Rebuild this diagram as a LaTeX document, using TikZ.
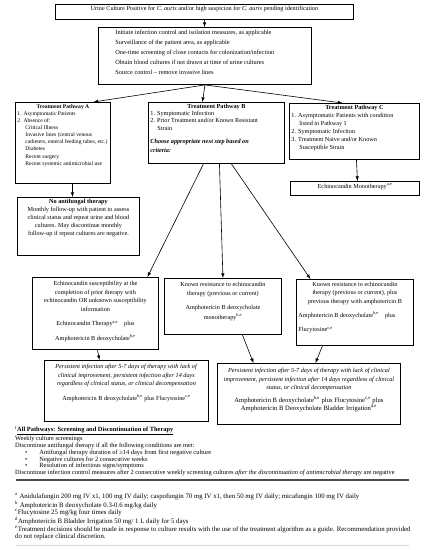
\documentclass[tikz,border=0pt]{standalone}
\usepackage{fontspec}
\setmainfont{Liberation Serif}

% fixed-size box content, text at the top
\newcommand{\cell}[3]{\parbox[c][#2][t]{#1}{#3}}

\tikzset{
  box/.style={draw, line width=0.9pt, inner sep=2pt, anchor=north west,
    font=\fontsize{6.2}{8}\selectfont},
  link/.style={->, line width=0.6pt},
  note/.style={anchor=north west, inner sep=0pt, align=left},
}

\begin{document}
\begin{tikzpicture}[>=latex, x=1pt, y=-1pt]
\useasboundingbox (0,0) rectangle (429,550);

\node[box] (urine) at (55,4) {\cell{294pt}{11pt}{\centering
  Urine Culture Positive for \textit{C. auris} and/or high suspicion for \textit{C. auris} pending identification}};
\node[box] (init) at (98,27) {\cell{209pt}{53pt}{\fontsize{6.3}{10}\selectfont\raggedright\leftskip=15pt
  \vspace*{1pt}Initiate infection control and isolation measures, as applicable\\
  Surveillance of the patient area, as applicable\\
  One-time screening of close contacts for colonization/infection\\
  Obtain blood cultures if not drawn at time of urine cultures\\
  Source control -- remove invasive lines}};

% the three pathways
\node[box, font=\fontsize{5.6}{7.1}\selectfont] (pathA) at (15,102) {\cell{91pt}{77pt}{\centering
  \textbf{Treatment Pathway A}\par\raggedright
  1. Asymptomatic Patients\\
  2. Absence of:\\
  \hspace*{8pt}Critical Illness\\
  \hspace*{8pt}Invasive lines (central venous\\
  \hspace*{8pt}catheters, enteral feeding tubes, etc.)\\
  \hspace*{8pt}Diabetes\\
  \hspace*{8pt}Recent surgery\\
  \hspace*{8pt}Recent systemic antimicrobial use}};
\node[box, font=\fontsize{6.2}{7.1}\selectfont] (pathB) at (148,102) {\cell{132pt}{57pt}{\centering
  \textbf{Treatment Pathway B}\par\raggedright
  1. Symptomatic Infection\\
  2. Prior Treatment and/or Known Resistant\\
  \hspace*{7pt}Strain\\[6pt]
  \textbf{\textit{Choose appropriate next step based on}}\\[2pt]
  \textbf{\textit{criteria:}}}};
\node[box] (pathC) at (289,103) {\cell{126pt}{52pt}{\centering
  \textbf{Treatment Pathway C}\par\raggedright
  1. Asymptomatic Patients with condition\\
  \hspace*{8pt}listed in Pathway 1\\
  2. Symptomatic Infection\\
  3. Treatment Naive and/or Known\\
  \hspace*{8pt}Susceptible Strain}};
\node[box] (echmono) at (290,181) {\cell{125pt}{10pt}{\centering
  Echinocandin Monotherapy\textsuperscript{a,e}}};
\node[box] (noaf) at (17,197) {\cell{118pt}{54pt}{\centering
  \textbf{No antifungal therapy}\\
  Monthly follow-up with patient to assess\\
  clinical status and repeat urine and blood\\
  cultures. May discontinue monthly\\
  follow-up if repeat cultures are negative.}};

% pathway B options
\node[box, font=\fontsize{6.2}{8.5}\selectfont] (suscept) at (32,277) {\cell{122pt}{68pt}{\centering
  \vspace*{2pt}Echinocandin susceptibility at the\\
  completion of prior therapy with\\
  echinocandin OR unknown susceptibility\\
  information\\[6pt]
  Echinocandin Therapy\textsuperscript{a,e}\quad plus\\[6pt]
  Amphotericin B deoxycholate\textsuperscript{b,e}}};
\node[box, font=\fontsize{6.2}{8.5}\selectfont] (resist) at (164,278) {\cell{113pt}{52pt}{\centering
  \vspace*{2pt}Known resistance to echinocandin\\
  therapy (previous or current)\\[6pt]
  Amphotericin B deoxycholate\\[1pt]
  monotherapy\textsuperscript{b,e}}};
\node[box, font=\fontsize{6.2}{8.2}\selectfont] (resamb) at (296,279) {\cell{113pt}{62pt}{\centering
  \vspace*{1pt}Known resistance to echinocandin\\
  therapy (previous or current), plus\\
  previous therapy with amphotericin B\\[6pt]
  \raggedright Amphotericin B deoxycholate\textsuperscript{b,e}\quad plus\\[6pt]
  Flucytosine\textsuperscript{c,e}}};

% persistent infection
\node[box, font=\fontsize{6.2}{8.5}\selectfont] (persistA) at (44,360) {\cell{160pt}{57pt}{\centering
  \vspace*{2pt}\textit{Persistent infection after 5-7 days of therapy with lack of}\\
  \textit{clinical improvement, persistent infection after 14 days}\\
  \textit{regardless of clinical status, or clinical decompensation}\\[6pt]
  Amphotericin B deoxycholate\textsuperscript{b,e} plus Flucytosine\textsuperscript{c,e}}};
\node[box, font=\fontsize{6.2}{8.2}\selectfont] (persistB) at (217,363) {\cell{179pt}{57pt}{\centering
  \vspace*{3pt}\textit{Persistent infection after 5-7 days of therapy with lack of clinical}\\
  \textit{improvement, persistent infection after 14 days regardless of clinical}\\
  \textit{status, or clinical decompensation}\\[5pt]
  {\fontsize{6.6}{8.2}\selectfont Amphotericin B deoxycholate\textsuperscript{b,e} plus Flucytosine\textsuperscript{c,e} plus\\
  Amphotericin B Deoxycholate Bladder Irrigation\textsuperscript{d,e}}}};

% connectors
\draw[link] (urine) -- (init);
\draw[link] (init.south) -- ([xshift=30.5pt]pathA.north);
\draw[link] (init.south) -- ([xshift=-14pt]pathB.north);
\draw[link] (init.south) -- ([xshift=-12pt]pathC.north);
\draw[link] ([xshift=9.5pt]pathA.south) -- ([xshift=-6pt]noaf.north);
\draw[link] ([xshift=2pt]pathC.south) -- ([xshift=2.5pt]echmono.north);
\draw[link] ([xshift=-13pt]pathB.south) -- ([xshift=52pt]suscept.north);
\draw[link] ([xshift=3pt]pathB.south) -- (resist.north);
\draw[link] ([xshift=15pt]pathB.south) -- ([xshift=-44.5pt]resamb.north);
\draw[link] ([xshift=2pt]suscept.south) -- ([xshift=-27pt]persistA.north);
\draw[link] ([xshift=19.5pt]resist.south) -- ([xshift=-55.5pt]persistB.north);
\draw[link] ([xshift=-32.5pt]resamb.south) -- ([xshift=6.5pt]persistB.north);

% notes below the chart
\node[note, font=\fontsize{6.4}{6.8}\selectfont] (screening) at (15,426) {%
  \textsuperscript{f}\underline{\textbf{All Pathways: Screening and Discontinuation of Therapy}}\\
  Weekly culture screenings\\
  Discontinue antifungal therapy if all the following conditions are met:\\
  \hspace*{10pt}•\hspace{12pt}Antifungal therapy duration of ≥14 days from first negative culture\\
  \hspace*{10pt}•\hspace{12pt}Negative cultures for 2 consecutive weeks\\
  \hspace*{10pt}•\hspace{12pt}Resolution of infectious signs/symptoms\\
  Discontinue infection control measures after 2 consecutive weekly screening cultures \textit{after the discontinuation of antimicrobial therapy} are negative};
\draw[line width=2.4pt, black!70] (16,480) -- (409,480);
\node[note, font=\fontsize{6.8}{7.6}\selectfont] (doses) at (15,493) {%
  \textsuperscript{a} Anidulafungin 200 mg IV x1, 100 mg IV daily; caspofungin 70 mg IV x1, then 50 mg IV daily; micafungin 100 mg IV daily\\
  \textsuperscript{b} Amphotericin B deoxycholate 0.3-0.6 mg/kg daily\\
  \textsuperscript{c}Flucytosine 25 mg/kg four times daily\\
  \textsuperscript{d}Amphotericin B Bladder Irrigation 50 mg/ 1 L daily for 5 days\\
  \textsuperscript{e}Treatment decisions should be made in response to culture results with the use of the treatment algorithm as a guide. Recommendation provided\\
  do not replace clinical discretion.};
\draw[line width=0.8pt, black!15] (16,545) -- (409,545);
\end{tikzpicture}
\end{document}
